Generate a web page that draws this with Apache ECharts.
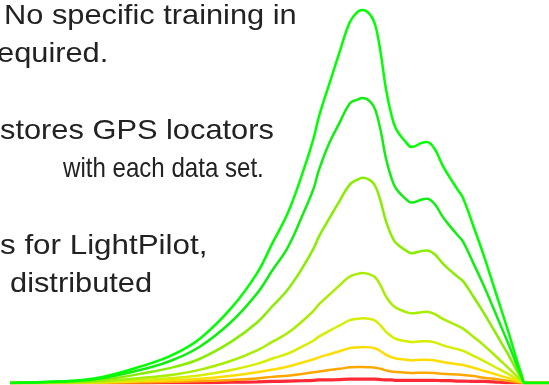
<!DOCTYPE html>
<html>
<head>
<meta charset="utf-8">
<script src="https://cdn.jsdelivr.net/npm/echarts@6/dist/echarts.min.js"></script>
<style>
html,body{margin:0;padding:0;background:#fff;}
#c{width:549px;height:385px;}
</style>
</head>
<body>
<div id="c"></div>
<script>
// x positions (relative units)
var xs = [0, 8, 17, 27, 32, 37, 43, 48, 51, 54, 57, 59, 60, 62, 64, 66, 67.5, 68.5, 70, 71, 72, 73, 74, 75, 77, 78, 80, 81, 82.5, 84, 85.5, 87, 88, 90, 92, 95, 97, 98.5, 99.5, 100, 104.7];

var curve1 = [0, 0.3, 1.3, 5.0, 7.6, 11.7, 19.6, 28.7, 36.6, 44.5, 55.5, 64.0, 69.5, 78.0, 86.3, 94.2, 96.9, 97.4, 96.1, 93.2, 86.2, 77.0, 70.5, 66.3, 62.7, 61.6, 62.7, 62.9, 61.1, 56.9, 53.5, 50.4, 48.3, 41.0, 33.4, 20.9, 12.5, 5.7, 1.6, 0, 0];
var curve2 = [0, 0.3, 1.1, 4.0, 6.2, 9.6, 16.0, 23.4, 29.5, 35.5, 44.4, 50.9, 55.6, 62.6, 67.9, 73.0, 74.0, 74.4, 73.4, 71.2, 65.9, 58.8, 53.9, 50.7, 47.9, 47.1, 47.9, 48.1, 46.7, 43.5, 40.9, 38.5, 36.9, 31.3, 25.5, 16.0, 9.6, 4.4, 1.2, 0, 0];
var curve3 = [0, 0.2, 0.7, 2.8, 4.2, 6.4, 10.8, 15.8, 20.1, 24.5, 30.5, 35.2, 38.2, 42.9, 47.5, 51.8, 53.1, 53.6, 52.9, 51.3, 47.4, 42.4, 38.8, 36.5, 34.5, 33.9, 34.5, 34.6, 33.6, 31.3, 29.4, 27.7, 26.6, 22.6, 18.4, 11.5, 6.9, 3.1, 0.9, 0, 0];
var curve4 = [0, 0.1, 0.4, 1.5, 2.2, 3.5, 5.8, 8.5, 10.8, 13.1, 16.4, 18.9, 20.5, 23.0, 25.5, 27.8, 28.5, 28.7, 28.3, 27.5, 25.4, 22.7, 20.8, 19.6, 18.5, 18.2, 18.5, 18.6, 18.0, 16.8, 15.8, 14.9, 14.2, 12.1, 9.9, 6.2, 3.7, 1.7, 0.5, 0, 0];
var curve5 = [0, 0.05, 0.2, 0.9, 1.3, 2.0, 3.4, 5.0, 6.4, 7.7, 9.7, 11.1, 12.1, 13.6, 15.0, 16.4, 16.8, 16.9, 16.7, 16.2, 15.0, 13.4, 12.3, 11.5, 10.9, 10.7, 10.9, 10.9, 10.6, 9.9, 9.3, 8.8, 8.4, 7.1, 5.8, 3.6, 2.2, 1.0, 0.3, 0, 0];
var curve6 = [0, 0, 0.1, 0.5, 0.7, 1.1, 1.9, 2.8, 3.5, 4.3, 5.4, 6.2, 6.7, 7.5, 8.3, 9.1, 9.3, 9.4, 9.3, 9.0, 8.3, 7.4, 6.8, 6.4, 6.1, 5.9, 6.1, 6.1, 5.9, 5.5, 5.2, 4.9, 4.7, 4.0, 3.2, 2.0, 1.2, 0.6, 0.2, 0, 0];
var curve7 = [0, 0, 0.1, 0.2, 0.3, 0.5, 0.8, 1.2, 1.6, 1.9, 2.4, 2.8, 3.0, 3.4, 3.7, 4.1, 4.2, 4.2, 4.1, 4.0, 3.7, 3.3, 3.0, 2.9, 2.7, 2.6, 2.7, 2.7, 2.6, 2.4, 2.3, 2.2, 2.1, 1.8, 1.4, 0.9, 0.5, 0.2, 0.1, 0, 0];
var curve8 = [0, 0, 0, 0.05, 0.1, 0.1, 0.2, 0.3, 0.4, 0.5, 0.6, 0.7, 0.8, 0.8, 0.9, 1.0, 1.0, 1.0, 1.0, 1.0, 0.9, 0.8, 0.8, 0.7, 0.7, 0.7, 0.7, 0.7, 0.7, 0.6, 0.6, 0.5, 0.5, 0.4, 0.4, 0.2, 0.1, 0.1, 0, 0, 0];

var curves = [curve8, curve7, curve6, curve5, curve4, curve3, curve2, curve1];
var colors = ['#ff2a35', '#ffa600', '#ffdd00', '#d6ee00', '#a8ee00', '#88ee00', '#11ee11', '#00ff00'];
var widths = [3.2, 2.5, 2.5, 2.5, 2.5, 2.5, 2.5, 2.5];

var textLines = ['No specific training in', 'equired.', 'stores GPS locators', 'with each data set.', 's for LightPilot,', 'distributed'];
var textX = [4, -3, 0, 63, 0, 10];
var textBaseline = [25, 63, 140, 178, 255, 293];
var textScaleX = [1.1, 1.1, 1.1, 0.86, 1.12, 1.1];

var chart = echarts.init(document.getElementById('c'), null, {renderer: 'canvas'});

var series = curves.map(function (vals, i) {
  return {
    type: 'line',
    data: xs.map(function (x, j) { return [x, vals[j]]; }),
    smooth: 0.4,
    symbol: 'none',
    lineStyle: {color: colors[i], width: widths[i]},
    silent: true
  };
});

var graphics = textLines.map(function (t, i) {
  return {
    type: 'text',
    x: textX[i],
    y: textBaseline[i] - 8.7,
    scaleX: textScaleX[i],
    style: {
      text: t,
      font: '28px "Liberation Sans", Arial, sans-serif',
      fill: '#222222',
      align: 'left',
      verticalAlign: 'middle'
    }
  };
});

chart.setOption({
  animation: false,
  backgroundColor: '#ffffff',
  grid: {left: 10, right: 0, top: 0, bottom: 2},
  xAxis: {type: 'value', min: 0, max: 104.7, show: false},
  yAxis: {type: 'value', min: 0, max: 100, show: false},
  graphic: graphics,
  series: series
});
</script>
</body>
</html>
